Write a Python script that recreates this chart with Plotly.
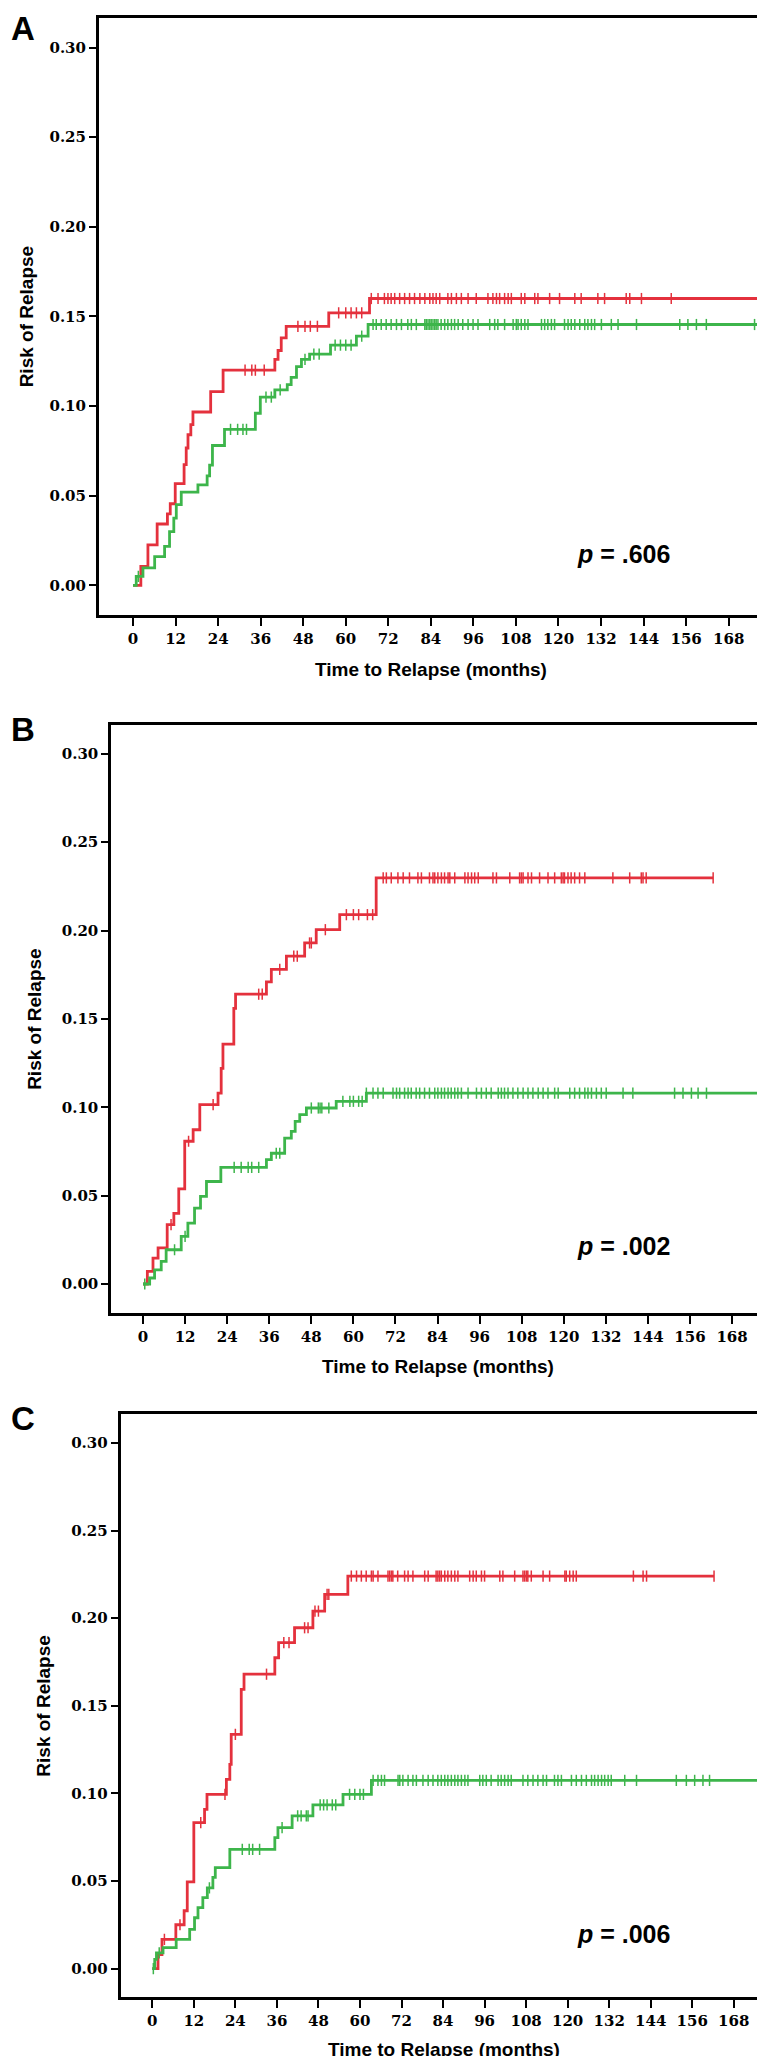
import numpy as np
import plotly.graph_objects as go

W, H = 765, 2056
RED = "#E4313D"
GREEN = "#3DB54B"

x_ticks = list(range(0, 169, 12))
y_ticks = [0.00, 0.05, 0.10, 0.15, 0.20, 0.25, 0.30]
x_title = "Time to Relapse (months)"
y_title = "Risk of Relapse"
panel_labels = ["A", "B", "C"]
p_values = [".606", ".002", ".006"]

# ---------------- Panel A ----------------
a_red_t = [0, 2.2, 4.2, 6.8, 9.7, 10.5, 11.9, 14.4, 15.0, 15.5, 16.3, 16.9, 21.9, 25.4, 40.0, 40.9, 41.8, 43.2, 55.2, 66.7]
a_red_v = [0, 0.0106, 0.0226, 0.0342, 0.0398, 0.0455, 0.0567, 0.0673, 0.0766, 0.084, 0.0896, 0.0967, 0.108, 0.120, 0.126, 0.131, 0.138, 0.1445, 0.152, 0.160]
a_red_end = 176.2
a_red_cens = [31.6, 33.5, 34.5, 37.0, 46.5, 48.5, 50.0, 52.0, 58.0, 60.0, 61.5, 63.0, 64.5,
              67.2, 69.1, 70.9, 71.9, 72.8, 73.8, 75.2, 76.6, 78.0, 79.4, 80.9, 82.3, 83.7, 84.6, 85.5, 86.5,
              88.8, 89.8, 91.2, 92.6, 94.5, 96.8, 100.1, 101.5, 102.5, 103.4, 104.8, 105.8, 106.7, 109.5,
              110.5, 113.3, 114.2, 117.5, 120.3, 124.6, 126.4, 131.1, 133.0, 139.1, 140.1, 143.4, 151.8, 176.2]
a_green_t = [0, 0.9, 2.8, 6.1, 8.9, 10.3, 11.5, 12.2, 13.6, 18.3, 20.9, 21.6, 22.4, 25.8, 34.5, 35.9, 40.0, 43.5, 44.6, 46.1, 47.5, 49.8, 55.7, 63.0, 66.3]
a_green_v = [0, 0.005, 0.0097, 0.016, 0.0217, 0.030, 0.0375, 0.045, 0.052, 0.056, 0.061, 0.067, 0.078, 0.087, 0.096, 0.105, 0.109, 0.112, 0.116, 0.122, 0.126, 0.129, 0.134, 0.139, 0.1455]
a_green_end = 177.2
a_green_cens = [1.5, 27.5, 29.5, 31.0, 32.0, 37.5, 39.0, 41.5, 48.5, 51.0, 52.5, 57.0, 58.5, 60.0, 61.5, 64.5,
                67.7, 68.6, 70.0, 71.4, 72.8, 74.3, 75.7, 77.5, 78.5, 79.9, 82.3, 82.7, 83.2, 83.7, 84.1, 84.6,
                85.1, 85.5, 86.0, 86.9, 87.9, 88.8, 89.8, 90.7, 91.7, 93.0, 94.5, 95.9, 97.3, 100.6, 102.0,
                102.9, 104.8, 107.2, 108.1, 108.6, 109.5, 110.5, 111.4, 115.2, 116.1, 117.0, 118.0, 118.9,
                121.7, 122.7, 123.6, 124.6, 126.0, 127.4, 128.3, 129.3, 130.2, 132.1, 134.9, 136.8, 142.0,
                154.2, 156.5, 158.9, 161.7, 175.3]

# ---------------- Panel B ----------------
b_red_t = [0, 1.24, 2.85, 4.3, 6.9, 8.8, 10.2, 11.9, 14.3, 16.2, 21.4, 22.3, 22.8, 25.9, 26.4, 35.2, 36.6, 40.9, 46.1, 49.4, 56.1, 66.5]
b_red_v = [0, 0.0072, 0.0147, 0.0204, 0.0336, 0.040, 0.0538, 0.0808, 0.0873, 0.1015, 0.108, 0.122, 0.1358, 0.156, 0.164, 0.171, 0.178, 0.1855, 0.193, 0.2005, 0.209, 0.2298]
b_red_end = 162.6
b_red_cens = [8.0, 13.0, 20.0, 33.0, 34.0, 39.0, 43.0, 44.0, 47.5, 48.0, 52.0, 58.0, 60.0, 61.5, 64.0, 65.5,
              68.5, 69.4, 70.8, 72.7, 74.2, 76.0, 78.4, 79.4, 81.7, 82.7, 83.2, 84.1, 85.1, 86.0, 87.0, 87.5,
              88.9, 91.8, 92.7, 93.7, 94.6, 95.6, 99.8, 100.8, 104.6, 107.4, 107.9, 108.4, 109.8, 110.8, 113.1,
              115.5, 117.4, 119.3, 119.8, 120.2, 121.2, 122.1, 123.1, 124.5, 126.0, 134.0, 138.8, 142.1, 142.6,
              143.5, 162.6]
b_green_t = [0, 1.9, 3.3, 5.2, 6.6, 10.9, 12.8, 14.7, 16.4, 18.1, 22.2, 35.2, 36.6, 40.4, 42.3, 43.4, 44.7, 46.6, 55.1, 63.7]
b_green_v = [0, 0.0034, 0.008, 0.0128, 0.0194, 0.027, 0.0345, 0.043, 0.0496, 0.058, 0.066, 0.0704, 0.074, 0.0826, 0.0864, 0.092, 0.0958, 0.0996, 0.1034, 0.108]
b_green_end = 177.2
b_green_cens = [0.5, 9.0, 12.0, 26.0, 28.0, 30.0, 31.0, 33.0, 38.0, 39.0, 48.0, 50.0, 50.5, 51.0, 53.0, 57.0,
                59.0, 60.0, 61.5, 62.5, 63.7, 65.6, 67.0, 68.5, 71.3, 72.3, 73.2, 74.6, 75.6, 76.5, 77.9, 78.9,
                80.3, 81.7, 83.2, 84.1, 85.1, 86.0, 87.0, 87.9, 88.9, 89.8, 90.8, 92.7, 95.1, 96.5, 97.9, 99.3,
                101.3, 102.2, 103.1, 104.1, 105.5, 106.9, 108.4, 109.8, 111.2, 112.7, 114.1, 115.5, 117.4,
                118.4, 121.7, 123.1, 124.5, 126.0, 126.9, 127.9, 129.3, 130.7, 132.1, 136.9, 139.7, 151.6,
                154.0, 156.4, 158.3, 160.7, 175.4, 176.8]

# ---------------- Panel C ----------------
c_red_t = [0, 1.65, 2.8, 6.8, 9.2, 10.1, 12.0, 15.1, 15.8, 21.4, 22.4, 22.8, 25.7, 26.5, 35.4, 36.5, 41.1, 46.4, 49.8, 56.5]
c_red_v = [0, 0.008, 0.0167, 0.025, 0.033, 0.0495, 0.0833, 0.0909, 0.0994, 0.108, 0.1165, 0.1337, 0.1593, 0.168, 0.1774, 0.186, 0.1945, 0.204, 0.2135, 0.224]
c_red_end = 162.3
c_red_cens = [3.5, 8.0, 14.0, 21.0, 24.0, 33.0, 38.0, 39.5, 44.0, 45.0, 47.0, 48.0, 50.5, 51.0,
              57.5, 59.0, 60.4, 61.8, 63.3, 63.8, 65.2, 68.1, 68.6, 69.1, 69.5, 70.9, 72.9, 73.9, 75.3, 78.7,
              79.7, 82.0, 82.5, 83.0, 83.5, 84.5, 85.4, 86.4, 87.4, 88.3, 91.7, 92.7, 93.6, 95.1, 96.0, 100.4,
              101.3, 104.7, 107.1, 107.6, 108.1, 108.5, 109.5, 112.9, 114.8, 119.2, 119.6, 120.6, 121.6,
              122.5, 139.0, 141.8, 142.8, 162.3]
c_green_t = [0, 0.7, 1.2, 3.1, 6.9, 10.8, 12.2, 13.2, 14.6, 15.9, 17.5, 18.2, 22.4, 35.4, 36.3, 40.4, 46.4, 55.1, 63.3]
c_green_v = [0, 0.0053, 0.009, 0.012, 0.0167, 0.0224, 0.029, 0.0348, 0.0405, 0.046, 0.052, 0.0576, 0.068, 0.0747, 0.0804, 0.0871, 0.0934, 0.0994, 0.1074]
c_green_end = 177.2
c_green_cens = [0.3, 2.0, 16.5, 26.0, 28.0, 29.0, 31.0, 37.5, 42.0, 43.0, 44.5, 45.0, 48.5, 49.5, 50.5,
                52.0, 53.0, 57.0, 58.5, 60.0, 61.0, 63.8, 65.2, 66.2, 67.1, 71.0, 71.5, 72.4, 73.9, 75.3, 76.3,
                78.2, 79.7, 81.1, 82.5, 83.5, 84.5, 85.4, 86.4, 87.4, 88.3, 89.3, 90.3, 91.2, 94.6, 95.5, 96.5,
                97.9, 99.9, 100.8, 101.8, 102.8, 103.7, 107.1, 108.5, 110.0, 111.4, 112.9, 113.9, 116.2, 117.2,
                118.2, 121.1, 122.5, 124.0, 125.4, 126.9, 127.8, 128.8, 129.8, 130.7, 131.7, 132.6, 136.5,
                139.9, 151.4, 154.3, 156.7, 159.1, 161.0, 176.4]

series = [
    [(a_red_t, a_red_v, a_red_end, a_red_cens), (a_green_t, a_green_v, a_green_end, a_green_cens)],
    [(b_red_t, b_red_v, b_red_end, b_red_cens), (b_green_t, b_green_v, b_green_end, b_green_cens)],
    [(c_red_t, c_red_v, c_red_end, c_red_cens), (c_green_t, c_green_v, c_green_end, c_green_cens)],
]

# layout geometry (pixels): left, top, right, bottom of each plot frame
frames = [(91, 10, 754, 606.7), (103.3, 716.7, 756.7, 1305), (112.7, 1406, 758.3, 1989.3)]
x_ranges = [(-9.6, 177.4), (-9.04, 177.3), (-9.13, 177.4)]
y_range = (-0.0164, 0.3165)
letter_top = [-2, 701, 1390]
ytitle_x = [18, 27, 36]
xtitle_y = [661.7, 1358, 2041.7]
p_y = [546, 1238.3, 1926]
p_x = 567


def px_x(v):
    return v / W


def px_y(v):
    return 1 - v / H


fig = go.Figure()
annotations = []
layout_axes = {}

for i in range(3):
    xa = "x" if i == 0 else f"x{i+1}"
    ya = "y" if i == 0 else f"y{i+1}"
    for (t, v, end, cens), col in zip(series[i], [RED, GREEN]):
        xs = list(t) + [end]
        ys = list(v) + [v[-1]]
        fig.add_trace(go.Scatter(x=xs, y=ys, mode="lines", line=dict(color=col, width=2.8, shape="hv"),
                                 xaxis=xa, yaxis=ya, showlegend=False, hoverinfo="skip"))
        tt = np.array(t)
        vv = np.array(v)
        cy = [float(vv[np.searchsorted(tt, c, side="right") - 1]) for c in cens]
        fig.add_trace(go.Scatter(x=cens, y=cy, mode="markers",
                                 marker=dict(symbol="line-ns", size=8, line=dict(color=col, width=1.5)),
                                 xaxis=xa, yaxis=ya, showlegend=False, hoverinfo="skip"))
    l, tp, r, b = frames[i]
    key_x = "xaxis" if i == 0 else f"xaxis{i+1}"
    key_y = "yaxis" if i == 0 else f"yaxis{i+1}"
    layout_axes[key_x] = dict(domain=[px_x(l), px_x(r)], range=list(x_ranges[i]), anchor=ya,
                              tickvals=x_ticks, ticks="outside", ticklen=8, tickwidth=2, tickcolor="black",
                              showline=True, linewidth=3, linecolor="black", mirror=True,
                              showgrid=False, zeroline=False,
                              tickfont=dict(family="DejaVu Serif", size=15, color="black", weight="bold"))
    layout_axes[key_y] = dict(domain=[px_y(b), px_y(tp)], range=list(y_range), anchor=xa,
                              tickvals=y_ticks, tickformat=".2f", ticks="outside", ticklen=7, tickwidth=2,
                              tickcolor="black", showline=True, linewidth=3, linecolor="black", mirror=True,
                              showgrid=False, zeroline=False,
                              tickfont=dict(family="DejaVu Serif", size=15, color="black", weight="bold"))
    annotations.append(dict(text=f"<b>{panel_labels[i]}</b>", x=px_x(1), y=px_y(max(letter_top[i], 0)),
                            xref="paper", yref="paper", showarrow=False, xanchor="left", yanchor="top",
                            font=dict(family="Liberation Sans", size=33, color="black")))
    annotations.append(dict(text=f"<b>{y_title}</b>", x=px_x(ytitle_x[i]), y=px_y((tp + b) / 2), xref="paper",
                            yref="paper", showarrow=False, textangle=-90, xanchor="center", yanchor="middle",
                            font=dict(family="Liberation Sans", size=19, color="black")))
    annotations.append(dict(text=f"<b>{x_title}</b>", x=px_x((l + r) / 2), y=px_y(xtitle_y[i]), xref="paper",
                            yref="paper", showarrow=False, xanchor="center", yanchor="middle",
                            font=dict(family="Liberation Sans", size=19, color="black")))
    annotations.append(dict(text=f"<b><i>p</i> = {p_values[i]}</b>", x=px_x(p_x), y=px_y(p_y[i]), xref="paper",
                            yref="paper", showarrow=False, xanchor="left", yanchor="middle",
                            font=dict(family="Liberation Sans", size=25, color="black")))

fig.update_layout(width=W, height=H, margin=dict(l=0, r=0, t=0, b=0), paper_bgcolor="white",
                  plot_bgcolor="white", annotations=annotations, **layout_axes)

fig.write_html("out.html")
